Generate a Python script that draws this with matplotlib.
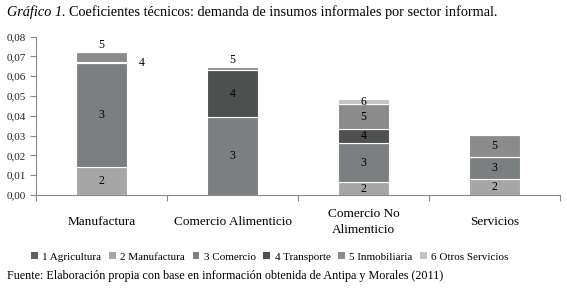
import numpy as np
import matplotlib
matplotlib.use("Agg")
from matplotlib import pyplot as plt
from matplotlib.patches import Patch

plt.rcParams['font.family'] = ['Liberation Serif', 'DejaVu Serif']

categories = ["Manufactura", "Comercio Alimenticio", "Comercio No\nAlimenticio", "Servicios"]
series = ["1 Agricultura", "2 Manufactura", "3 Comercio", "4 Transporte", "5 Inmobiliaria", "6 Otros Servicios"]
short = ["1", "2", "3", "4", "5", "6"]

# coefficients per series, one value per category
agricultura = [0.0, 0.0, 0.0, 0.0]
manufactura = [0.0141, 0.0, 0.0064, 0.0079]
comercio = [0.0527, 0.0392, 0.0197, 0.0111]
transporte = [0.0006, 0.0238, 0.0071, 0.0]
inmobiliaria = [0.0048, 0.0016, 0.0126, 0.0113]
otros = [0.0, 0.0, 0.0028, 0.0]

values = [agricultura, manufactura, comercio, transporte, inmobiliaria, otros]
colors = ["#5f5f5f", "#a6a6a6", "#7b7f7f", "#4e5050", "#8b8b8b", "#c3c3c3"]

# where each segment label goes: 'in', 'above', 'right' or None
label_pos = [
    [None, None, None, None],
    ['in', None, 'in', 'in'],
    ['in', 'in', 'in', 'in'],
    ['right', 'in', 'in', None],
    ['above', 'above', 'in', 'in'],
    [None, None, 'in', None],
]

W, H = 567, 288
fig = plt.figure(figsize=(W / 100, H / 100), dpi=100)
ax = fig.add_axes([36 / W, 1 - 195 / H, (560 - 36) / W, (195 - 36.7) / H])

x = np.arange(len(categories))
width = 0.39
bottom = np.zeros(len(categories))
for i, vals in enumerate(values):
    vals = np.array(vals)
    ax.bar(x, vals, width, bottom=bottom, color=colors[i], edgecolor='white', linewidth=0.8)
    for j in range(len(categories)):
        pos = label_pos[i][j]
        if pos == 'in':
            ax.text(x[j], bottom[j] + vals[j] / 2, short[i], ha='center', va='center', fontsize=8.5)
        elif pos == 'above':
            ax.text(x[j], bottom[j] + vals[j] + 0.0035, short[i], ha='center', va='center', fontsize=8.5)
        elif pos == 'right':
            ax.text(x[j] + width / 2 + 0.11, bottom[j] + vals[j] - 0.0008, short[i], ha='center', va='center', fontsize=8.5)
    bottom += vals

ax.set_xlim(-0.5, len(categories) - 0.5)
ax.set_ylim(0, 0.08)
yt = np.arange(0, 0.081, 0.01)
ax.set_yticks(yt)
ax.set_yticklabels([("%.2f" % v).replace('.', ',') for v in yt], fontsize=8)
ax.set_xticks(np.arange(-0.5, len(categories), 1.0))
ax.set_xticklabels([])
ax.tick_params(axis='both', colors='#888888', length=4, width=0.8, labelcolor='#222222')
for s in ['top', 'right']:
    ax.spines[s].set_visible(False)
for s in ['left', 'bottom']:
    ax.spines[s].set_color('#888888')
    ax.spines[s].set_linewidth(0.8)

for j, c in enumerate(categories):
    ax.text(x[j], -0.1706, c, transform=ax.get_xaxis_transform(), ha='center', va='center',
            fontsize=9.5, linespacing=1.4)

handles = [Patch(facecolor=colors[i], edgecolor='none') for i in range(len(series))]
fig.legend(handles, series, loc='center', bbox_to_anchor=(0.476, 1 - 257 / H), ncol=6,
           frameon=False, fontsize=8, handlelength=0.6, handleheight=0.6, handletextpad=0.4,
           columnspacing=0.7, borderpad=0)

fig.canvas.draw()
r = fig.canvas.get_renderer()
t1 = fig.text(7 / W, 1 - 12 / H, "Gráfico 1.", style='italic', fontsize=10.3, va='center')
bb = t1.get_window_extent(renderer=r)
fig.text(bb.x1 / W + 3 / W, 1 - 12 / H, "Coeficientes técnicos: demanda de insumos informales por sector informal.",
         fontsize=10.3, va='center')
fig.text(7 / W, 1 - 276 / H, "Fuente: Elaboración propia con base en información obtenida de Antipa y Morales (2011)",
         fontsize=8.7, va='center')

fig.savefig("out.png", dpi=100)
